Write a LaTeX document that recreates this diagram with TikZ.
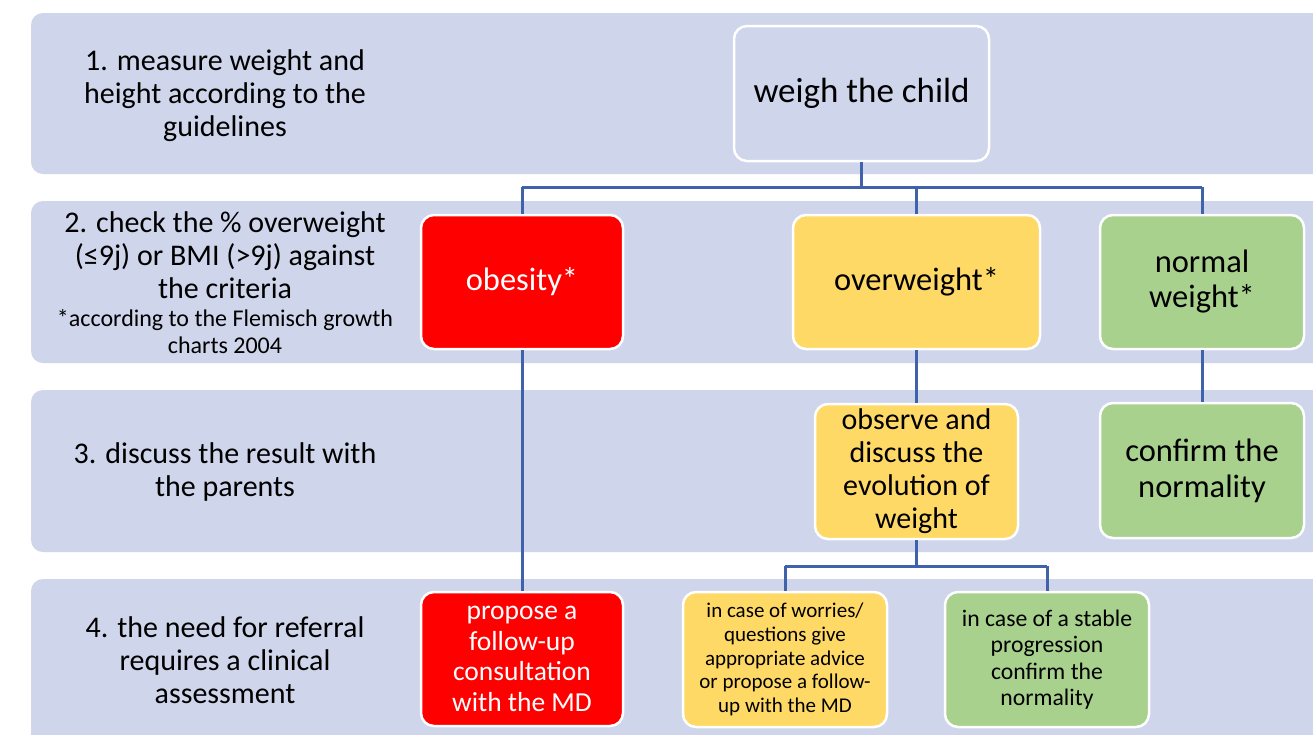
\documentclass[tikz,border=0pt]{standalone}
\usepackage{fontspec}
\setmainfont{Carlito}
\definecolor{bandcol}{RGB}{207,213,234}
\definecolor{linecol}{RGB}{63,98,170}
\definecolor{redcol}{RGB}{255,0,0}
\definecolor{yelcol}{RGB}{255,217,102}
\definecolor{grecol}{RGB}{169,209,142}
\newcommand{\fs}[2]{\fontsize{#1}{#2}\selectfont}
\tikzset{
  band/.style={fill=bandcol, rounded corners=12pt},
  lbl/.style={align=center, text=black, inner sep=0pt},
  box/.style={draw=white, line width=2.5pt, rounded corners=13pt, align=center, inner sep=2pt},
  redbox/.style={box, fill=redcol, text=white},
  yelbox/.style={box, fill=yelcol, text=black},
  grebox/.style={box, fill=grecol, text=black},
  bluebox/.style={box, fill=bandcol, text=black},
  conn/.style={draw=linecol, line width=3pt}
}
\begin{document}
\begin{tikzpicture}[x=1pt,y=-1pt]
\useasboundingbox (0,0) rectangle (1313,734);
\fill[white] (0,0) rectangle (1313,734);
% bands
\path[band] (31,13) rectangle (1345,174);
\path[band] (31,201) rectangle (1345,363);
\path[band] (31,390) rectangle (1345,552);
\path[band] (31,579) rectangle (1345,770);
% left labels
\node[lbl, font=\fs{30}{33}] (l1) at (225,96) {1. measure weight and\\height according to the\\guidelines};
\node[lbl, font=\fs{30}{33}] (l2a) at (225,255) {2. check the \% overweight\\(≤9j) or BMI (>9j) against\\the criteria};
\node[lbl, font=\fs{24}{27}] (l2b) at (225,332) {*according to the Flemisch growth\\charts 2004};
\node[lbl, font=\fs{30}{33}] (l3) at (225,472) {3. discuss the result with\\the parents};
\node[lbl, font=\fs{30}{33}] (l4) at (225,660) {4. the need for referral\\requires a clinical\\assessment};
% boxes
\node[bluebox, minimum width=255pt, minimum height=135pt, font=\fs{35}{38}] (weigh) at (861.5,93.5) {weigh the child};
\node[redbox, minimum width=202pt, minimum height=134pt, font=\fs{32.5}{35}] (obes) at (522,282) {obesity*};
\node[yelbox, minimum width=247pt, minimum height=134pt, font=\fs{32.5}{35}] (over) at (916.5,282) {overweight*};
\node[grebox, minimum width=204pt, minimum height=134pt, font=\fs{32.5}{35}] (norm) at (1202,282) {normal\\weight*};
\node[yelbox, minimum width=203pt, minimum height=135pt, font=\fs{30}{33}] (obs) at (916.5,471.5) {observe and\\discuss the\\evolution of\\weight};
\node[grebox, minimum width=204pt, minimum height=135pt, font=\fs{32.5}{36}] (conf) at (1202,470.5) {confirm the\\normality};
\node[redbox, minimum width=202pt, minimum height=134pt, font=\fs{27.5}{30.5}] (prop) at (522,659) {propose a\\follow-up\\consultation\\with the MD};
\node[yelbox, minimum width=204pt, minimum height=135pt, font=\fs{21}{23.7}] (worr) at (785,659.5) {in case of worries/\\questions give\\appropriate advice\\or propose a follow-\\up with the MD};
\node[grebox, minimum width=204pt, minimum height=135pt, font=\fs{23.7}{26.5}] (stab) at (1047,659.5) {in case of a stable\\progression\\confirm the\\normality};
% connectors
\coordinate (j1) at (862,187);
\coordinate (j2) at (916,566);
\draw[conn] (weigh.south) -- (weigh.south |- j1);
\draw[conn] (obes.north |- j1) -- (norm.north |- j1);
\draw[conn] (obes.north |- j1) -- (obes.north);
\draw[conn] (over.north |- j1) -- (over.north);
\draw[conn] (norm.north |- j1) -- (norm.north);
\draw[conn] (obes.south) -- (prop.north);
\draw[conn] (over.south) -- (obs.north);
\draw[conn] (norm.south) -- (conf.north);
\draw[conn] (obs.south) -- (obs.south |- j2);
\draw[conn] (worr.north |- j2) -- (stab.north |- j2);
\draw[conn] (worr.north |- j2) -- (worr.north);
\draw[conn] (stab.north |- j2) -- (stab.north);
\end{tikzpicture}
\end{document}
